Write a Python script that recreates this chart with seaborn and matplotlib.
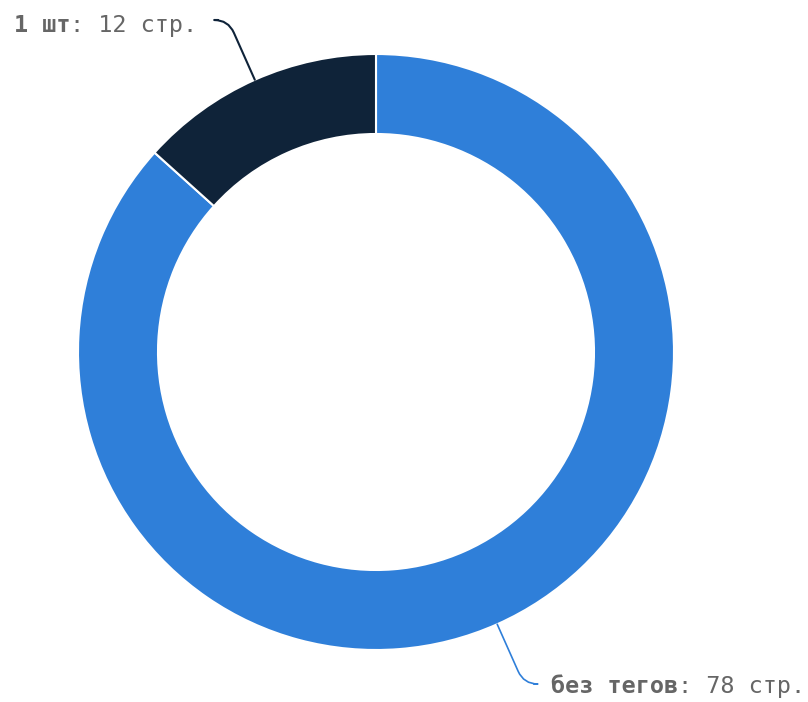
import numpy as np
import seaborn as sns
import matplotlib
matplotlib.use("Agg")
import matplotlib.pyplot as plt

# данные
labels = ["без тегов", "1 шт"]
pages = [78, 12]
colors = ["#2f7fd9", "#0f2339"]
suffix = "стр."

sns.set_theme(style="white")
plt.rcParams['font.family'] = ['DejaVu Sans Mono', 'DejaVu Sans']

fig = plt.figure(figsize=(8.08, 7.02), dpi=100)
ax = fig.add_axes([0, 0, 1, 1])

wedges, _ = ax.pie(pages, colors=colors, startangle=90, counterclock=False,
                   radius=298, center=(376, 350),
                   wedgeprops=dict(width=80, edgecolor='white', linewidth=1.5))
ax.set_xlim(0, 808)
ax.set_ylim(0, 702)
ax.set_aspect('equal')
ax.axis('off')

txt_color = "#666666"
fs = 16.9
# (позиция подписи, начало выноски)
layout = {
    "1 шт": dict(text=(14, 670), hook=(218, 682)),
    "без тегов": dict(text=(551, 9), hook=(534, 18)),
}

for w, lab, val, col in zip(wedges, labels, pages, colors):
    mid = np.deg2rad((w.theta1 + w.theta2) / 2)
    cx, cy = w.center
    xy = (cx + w.r * np.cos(mid), cy + w.r * np.sin(mid))
    ang = np.rad2deg(mid)
    pos = layout[lab]
    ax.annotate("", xy=xy, xytext=pos["hook"],
                arrowprops=dict(arrowstyle='-', color=col,
                                lw=1.5 if col == colors[1] else 1.2,
                                shrinkA=0, shrinkB=0,
                                connectionstyle=f"angle,angleA=0,angleB={ang:.1f},rad=14"))
    t1 = ax.text(pos["text"][0], pos["text"][1], lab, fontsize=fs,
                 fontweight='bold', color=txt_color, va='baseline', ha='left')
    ax.annotate(f": {val} {suffix}", xy=(1, 0), xycoords=t1, va='bottom',
                ha='left', fontsize=fs, color=txt_color)

fig.savefig("out.png", dpi=100)
